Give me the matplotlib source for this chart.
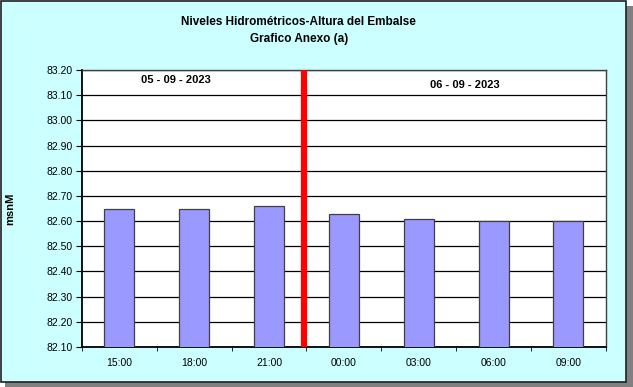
import numpy as np
import matplotlib.pyplot as plt
from matplotlib.patches import Rectangle

hours = ['15:00', '18:00', '21:00', '00:00', '03:00', '06:00', '09:00']
levels = [82.65, 82.65, 82.66, 82.63, 82.61, 82.60, 82.60]
day_labels = ['05 - 09 - 2023', '06 - 09 - 2023']
y_ticks = np.round(np.arange(82.10, 83.201, 0.10), 2)
split_pos = 2.47  # between 21:00 and 00:00

plt.rcParams['font.family'] = ['Liberation Sans', 'DejaVu Sans']

fig = plt.figure(figsize=(6.33, 3.87), dpi=100)
fig.patch.set_facecolor('white')

# chart area background with shadow
fig.patches.append(Rectangle((0.008, 0.0), 0.992, 0.985, transform=fig.transFigure,
                             facecolor='#808080', edgecolor='none', zorder=0))
fig.patches.append(Rectangle((0.001, 0.014), 0.988, 0.984, transform=fig.transFigure,
                             facecolor='#CCFFFF', edgecolor='#202020', linewidth=1.2, zorder=1))

ax = fig.add_axes([0.1295, 0.1034, 0.8275, 0.7156])
ax.set_facecolor('white')
ax.set_zorder(2)

x = np.arange(len(hours))
ax.bar(x, levels, width=0.4, bottom=0, color='#9999FF', edgecolor='#404040', linewidth=0.9, zorder=3)
ax.set_xlim(-0.5, len(hours) - 0.5)
ax.set_ylim(82.10, 83.20)
ax.set_yticks(y_ticks)
ax.set_yticklabels([f'{v:.2f}' for v in y_ticks], fontsize=7.5)
ax.yaxis.grid(True, color='black', linewidth=0.9)
ax.set_axisbelow(True)

ax.set_xticks(x)
ax.set_xticklabels(hours, fontsize=7.5)
ax.tick_params(axis='x', length=0, pad=8)
ax.set_xticks(np.arange(len(hours) + 1) - 0.5, minor=True)
ax.tick_params(axis='x', which='minor', length=3, direction='out', color='black')
ax.tick_params(axis='y', length=4, direction='out', color='black', pad=3)

for side in ['left', 'bottom']:
    ax.spines[side].set_linewidth(1.3)
    ax.spines[side].set_color('black')
for side in ['top', 'right']:
    ax.spines[side].set_linewidth(1.0)
    ax.spines[side].set_color('#404040')

ax.axvline(split_pos, color='red', linewidth=4.5, zorder=4)

ax.text(0.75, 83.16, day_labels[0], ha='center', va='center', fontsize=8, fontweight='bold')
ax.text(4.61, 83.14, day_labels[1], ha='center', va='center', fontsize=8, fontweight='bold')

ax.set_ylabel('msnM', fontsize=8, fontweight='bold', labelpad=22)

fig.text(0.472, 0.942, 'Niveles Hidrométricos-Altura del Embalse', ha='center', va='center',
         fontsize=8.5, fontweight='bold')
fig.text(0.472, 0.900, 'Grafico Anexo (a)', ha='center', va='center',
         fontsize=8.5, fontweight='bold')

fig.savefig('out.png', dpi=100)
